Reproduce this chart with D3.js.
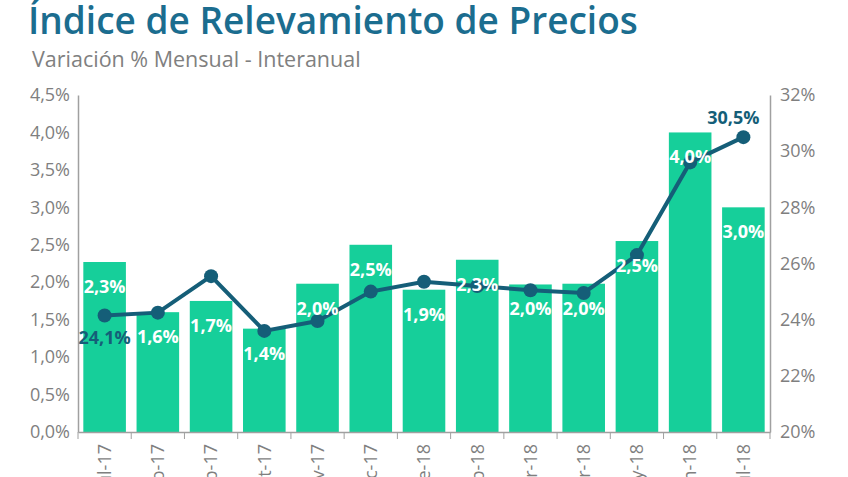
<!DOCTYPE html><html><head><meta charset="utf-8"><script src="https://cdn.jsdelivr.net/npm/d3@7"></script>
<style>body{margin:0;background:#fff;font-family:"Open Sans",sans-serif}</style></head><body><svg id="c" width="848" height="477"></svg>
<script>
const categories=["jul-17","ago-17","sep-17","oct-17","nov-17","dic-17","ene-18","feb-18","mar-18","abr-18","may-18","jun-18","jul-18"];
const mensual=[2.27,1.6,1.75,1.38,1.98,2.5,1.9,2.3,1.97,1.98,2.55,4.0,3.0];
const mensualLabels=["2,3%","1,6%","1,7%","1,4%","2,0%","2,5%","1,9%","2,3%","2,0%","2,0%","2,5%","4,0%","3,0%"];
const interanual=[24.15,24.25,25.55,23.6,23.95,25.0,25.35,25.2,25.05,24.95,26.3,29.6,30.5];
const leftTicks=[0,0.5,1,1.5,2,2.5,3,3.5,4,4.5];
const rightTicks=[20,22,24,26,28,30,32];
const svg=d3.select("#c");
const L=78,R=770,T=95,B=432;
const x=d3.scaleBand().domain(categories).range([L,R]).paddingInner(0.2).paddingOuter(0.1);
const yL=d3.scaleLinear().domain([0,4.5]).range([B,T]);
const yR=d3.scaleLinear().domain([20,32]).range([B,T]);
const fmt=v=>v.toFixed(1).replace(".",",")+"%";
svg.append("text").attr("x",28).attr("y",34).attr("fill","#1b6d8f").attr("font-size",37).attr("font-weight",600).text("Índice de Relevamiento de Precios");
svg.append("text").attr("x",32).attr("y",67).attr("fill","#808080").attr("font-size",21.5).text("Variación % Mensual - Interanual");
svg.selectAll("rect.b").data(mensual).join("rect").attr("x",(d,i)=>x(categories[i])).attr("width",x.bandwidth()).attr("y",d=>yL(d)).attr("height",d=>B-yL(d)).attr("fill","#16cf9a");
const gl=svg.append("g").attr("transform",`translate(${L},0)`).call(d3.axisLeft(yL).tickValues(leftTicks).tickFormat(fmt).tickSize(0).tickPadding(8));
const gr=svg.append("g").attr("transform",`translate(${R},0)`).call(d3.axisRight(yR).tickValues(rightTicks).tickFormat(d=>d+"%").tickSize(0).tickPadding(10));
const gx=svg.append("g").attr("transform",`translate(0,${B})`).call(d3.axisBottom(x).tickSize(0).tickPadding(10));
svg.selectAll("line.tk").data(d3.range(categories.length+1)).join("line").attr("x1",i=>L+i*(R-L)/categories.length).attr("x2",i=>L+i*(R-L)/categories.length).attr("y1",B).attr("y2",B+7).attr("stroke","#a0a0a0");
[gl,gr,gx].forEach(g=>{g.select(".domain").attr("stroke","#a0a0a0").attr("stroke-width",1.5);g.selectAll("text").attr("fill","#7f7f7f").attr("font-size",18).attr("font-family","Open Sans")});
gx.selectAll("text").attr("transform","rotate(-90)").attr("text-anchor","end").attr("y",0).attr("x",-12).attr("dy","0.35em");
const cx=i=>x(categories[i])+x.bandwidth()/2;
svg.append("path").datum(interanual).attr("fill","none").attr("stroke","#155e78").attr("stroke-width",4).attr("d",d3.line().x((d,i)=>cx(i)).y(d=>yR(d)));
svg.selectAll("circle").data(interanual).join("circle").attr("cx",(d,i)=>cx(i)).attr("cy",d=>yR(d)).attr("r",7).attr("fill","#155e78");
svg.selectAll("text.bl").data(mensualLabels).join("text").attr("x",(d,i)=>cx(i)).attr("y",(d,i)=>yL(mensual[i])+31).attr("text-anchor","middle").attr("fill","#fff").attr("font-size",18).attr("font-weight",700).text(d=>d);
svg.append("text").attr("x",cx(0)).attr("y",yR(interanual[0])+29).attr("text-anchor","middle").attr("fill","#155e78").attr("font-size",18).attr("font-weight",700).text("24,1%");
svg.append("text").attr("x",cx(12)-10).attr("y",yR(interanual[12])-13).attr("text-anchor","middle").attr("fill","#155e78").attr("font-size",18).attr("font-weight",700).text("30,5%");
</script></body></html>
